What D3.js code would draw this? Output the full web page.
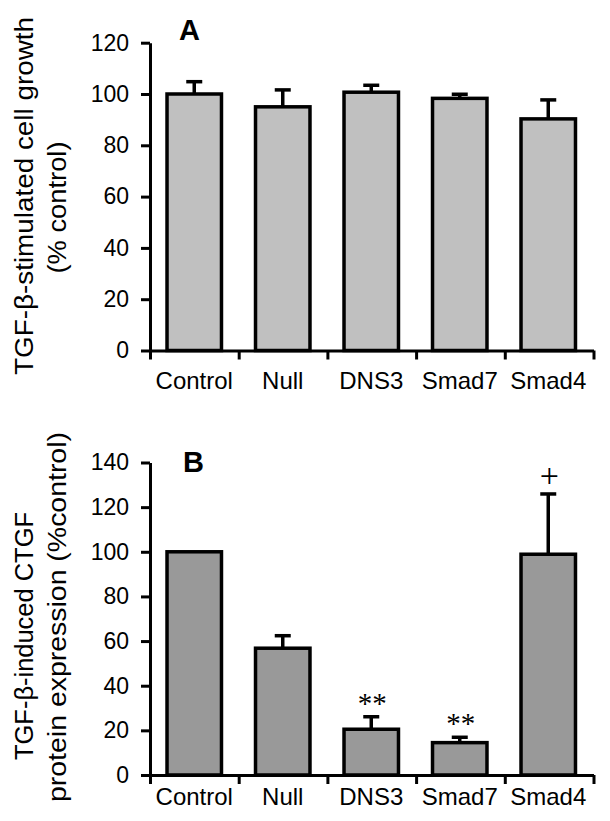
<!DOCTYPE html>
<html>
<head>
<meta charset="utf-8">
<script src="https://cdn.jsdelivr.net/npm/d3@7"></script>
<style>
  html, body { margin: 0; padding: 0; background: #fff; }
  svg { display: block; }
  text { font-family: "Liberation Sans", Arial, Helvetica, sans-serif; fill: #000; }
</style>
</head>
<body>
<div id="chart"></div>
<script>
// ---- data ----
const categories = ["Control", "Null", "DNS3", "Smad7", "Smad4"];
const growthMean = [100, 95.0, 100.7, 98.3, 90.3];
const growthErr  = [4.8, 6.6, 2.7, 1.6, 7.4];
const growthTicks = [0, 20, 40, 60, 80, 100, 120];
const ctgfMean = [100, 56.8, 20.5, 14.5, 98.9];
const ctgfErr  = [0, 5.6, 5.6, 2.4, 27.0];
const ctgfMarks = ["", "", "**", "**", "+"];
const ctgfTicks = [0, 20, 40, 60, 80, 100, 120, 140];

const W = 610, H = 821;
const svg = d3.select("#chart").append("svg").attr("width", W).attr("height", H);
svg.append("rect").attr("width", W).attr("height", H).attr("fill", "#fff");

function panel(opts) {
  const { mean, err, marks, ticks, yMax, yRange, fill, letter, letterPos,
          titles, labelBaseline } = opts;
  const g = svg.append("g");
  const x = d3.scaleBand().domain(categories).range([150, 592.5])
    .paddingInner(0.345).paddingOuter(0.1725);
  const xb = d3.scaleLinear().domain([0, categories.length]).range([150, 593.5]);
  const y = d3.scaleLinear().domain([0, yMax]).range(yRange);
  const rows = categories.map((c, i) => ({ c, m: mean[i], e: err[i], mark: marks ? marks[i] : "" }));

  // bars
  g.selectAll("rect.bar").data(rows).enter().append("rect")
    .attr("class", "bar")
    .attr("x", d => x(d.c) + 1.75)
    .attr("width", x.bandwidth() - 3.5)
    .attr("y", d => y(d.m))
    .attr("height", d => y(0) - y(d.m))
    .attr("fill", fill)
    .attr("stroke", "#000")
    .attr("stroke-width", 3.5);

  // error bars
  const eb = rows.filter(d => d.e > 0);
  g.selectAll("line.err").data(eb).enter().append("line")
    .attr("x1", d => x(d.c) + x.bandwidth() / 2)
    .attr("x2", d => x(d.c) + x.bandwidth() / 2)
    .attr("y1", d => y(d.m))
    .attr("y2", d => y(d.m + d.e))
    .attr("stroke", "#000").attr("stroke-width", 3.5);
  g.selectAll("line.cap").data(eb).enter().append("line")
    .attr("x1", d => x(d.c) + x.bandwidth() / 2 - 8)
    .attr("x2", d => x(d.c) + x.bandwidth() / 2 + 8)
    .attr("y1", d => y(d.m + d.e))
    .attr("y2", d => y(d.m + d.e))
    .attr("stroke", "#000").attr("stroke-width", 3.5);

  // significance marks
  g.selectAll("text.mark").data(rows.filter(d => d.mark)).enter().append("text")
    .attr("x", d => x(d.c) + x.bandwidth() / 2 + 1)
    .attr("y", d => y(d.m + d.e) - (d.mark === "+" ? 7 : 4))
    .attr("text-anchor", "middle")
    .style("font-family", "'Liberation Serif', 'Times New Roman', serif")
    .style("font-size", d => d.mark === "+" ? "34px" : "29px")
    .text(d => d.mark);

  // y axis
  const ya = g.append("g").attr("transform", "translate(150,0)")
    .call(d3.axisLeft(y).tickValues(ticks).tickSize(9).tickSizeOuter(0).tickPadding(12));
  ya.select(".domain").attr("stroke-width", 3);
  ya.selectAll(".tick line").attr("stroke-width", 3);
  ya.selectAll(".tick text").style("font-size", "23px")
    .style("font-family", "'Liberation Sans', Arial, sans-serif").attr("fill", "#000");

  // x axis (boundary ticks)
  const xa = g.append("g").attr("transform", `translate(0,${y(0)})`)
    .call(d3.axisBottom(xb).tickValues(d3.range(categories.length + 1)).tickSize(9)
      .tickSizeOuter(0).tickFormat(""));
  xa.select(".domain").attr("stroke-width", 3);
  xa.selectAll(".tick line").attr("stroke-width", 3);

  // category labels
  g.selectAll("text.cat").data(categories).enter().append("text")
    .attr("x", d => x(d) + x.bandwidth() / 2)
    .attr("y", labelBaseline)
    .attr("text-anchor", "middle")
    .style("font-size", "24px")
    .text(d => d);

  // panel letter
  g.append("text").attr("x", letterPos[0]).attr("y", letterPos[1])
    .style("font-size", "29px").style("font-weight", "bold").text(letter);

  // y titles
  titles.forEach(t => {
    g.append("text")
      .attr("transform", `translate(${t.bx},${t.cy}) rotate(-90)`)
      .attr("text-anchor", "middle")
      .attr("textLength", t.len)
      .attr("lengthAdjust", "spacingAndGlyphs")
      .style("font-size", "25px")
      .text(t.text);
  });
}

panel({
  mean: growthMean, err: growthErr, marks: null, ticks: growthTicks, yMax: 120,
  yRange: [350.5, 42.7], fill: "#c0c0c0", letter: "A", letterPos: [179, 40],
  labelBaseline: 388.5,
  titles: [
    { text: "TGF-\u03B2-stimulated cell growth", bx: 33, cy: 196, len: 358 },
    { text: "(% control)", bx: 66, cy: 207.5, len: 132 }
  ]
});

panel({
  mean: ctgfMean, err: ctgfErr, marks: ctgfMarks, ticks: ctgfTicks, yMax: 140,
  yRange: [775, 462.5], fill: "#999999", letter: "B", letterPos: [183, 471.5],
  labelBaseline: 805,
  titles: [
    { text: "TGF-\u03B2-induced CTGF", bx: 33, cy: 636, len: 248 },
    { text: "protein expression (%control)", bx: 66, cy: 617, len: 370 }
  ]
});
</script>
</body>
</html>
